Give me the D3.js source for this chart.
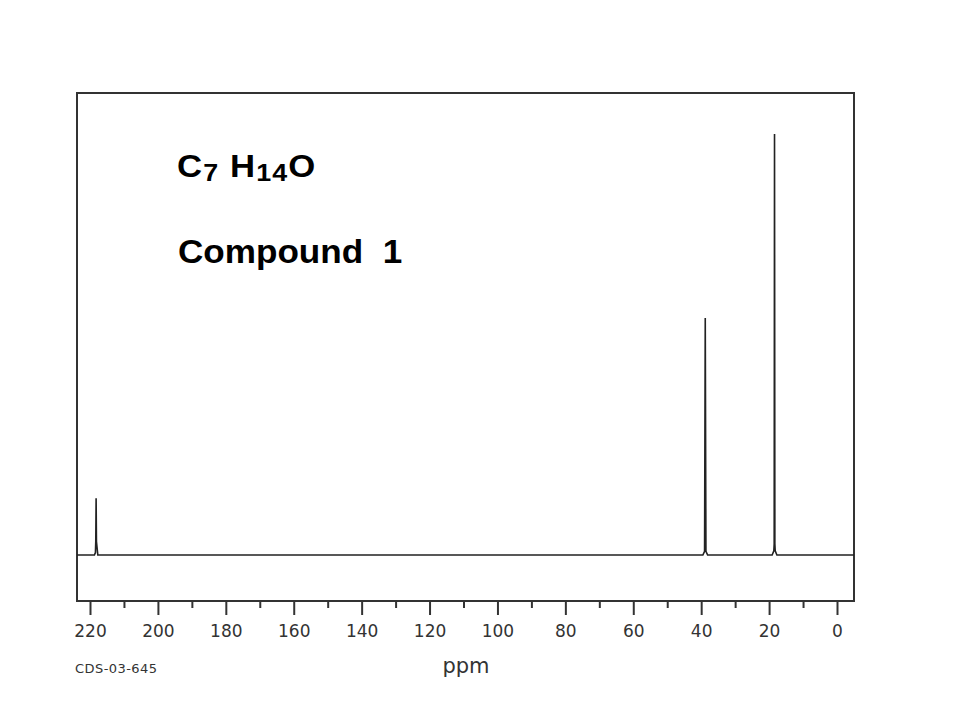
<!DOCTYPE html>
<html>
<head>
<meta charset="utf-8">
<script src="https://cdn.jsdelivr.net/npm/d3@7"></script>
<style>
  html, body { margin: 0; padding: 0; background: #fff; }
  svg { display: block; }
</style>
</head>
<body>
<svg id="chart" width="960" height="720"></svg>
<script>
// ---- data ----
const tickValues = [220, 200, 180, 160, 140, 120, 100, 80, 60, 40, 20, 0];
const minorTickValues = [210, 190, 170, 150, 130, 110, 90, 70, 50, 30, 10];
// peak list: chemical shift (ppm) and relative intensity
const peakShifts = [218.2, 38.8, 18.4];
const peakHeights = [13.5, 56.3, 100];
// spectrum trace (ppm, intensity) including the small feet of each peak
const tracePpm = [224, 218.7, 218.4, 218.3, 218.2, 218.1, 217.7,
                  39.5, 39.0, 38.8, 38.6, 38.1,
                  19.1, 18.6, 18.5, 18.4, 18.3, 18.2, 17.7, -5.2];
const traceInt = [0, 0, 0.6, 3.2, 13.5, 3.2, 0,
                  0, 0.9, 56.3, 0.9, 0,
                  0, 1.0, 2.6, 100, 2.6, 1.0, 0, 0];
const formulaText = ["C", "7", " H", "14", "O"];
const titleText = "Compound 1";
const axisTitle = "ppm";
const codeText = "CDS-03-645";

// ---- layout ----
const svg = d3.select("#chart");
const frame = { left: 77, top: 93, right: 854, bottom: 601 };
const x = d3.scaleLinear().domain([220, 0]).range([90, 837]);
const y = d3.scaleLinear().domain([0, 100]).range([555, 134]);

// frame
svg.append("rect")
  .attr("x", frame.left).attr("y", frame.top)
  .attr("width", frame.right - frame.left)
  .attr("height", frame.bottom - frame.top)
  .attr("fill", "none").attr("stroke", "#333").attr("stroke-width", 2);

// spectrum trace
const pts = tracePpm.map((p, i) => [Math.max(frame.left, Math.min(frame.right, x(p))), y(traceInt[i])]);
svg.append("path")
  .attr("d", d3.line()(pts))
  .attr("fill", "none").attr("stroke", "#222").attr("stroke-width", 1.6);

// axis
const axis = d3.axisBottom(x)
  .tickValues(tickValues)
  .tickSize(14).tickPadding(10)
  .tickFormat(d3.format("d"));
const gAxis = svg.append("g")
  .attr("transform", `translate(0,${frame.bottom})`)
  .call(axis);
gAxis.select(".domain").remove();
gAxis.selectAll(".tick line").attr("stroke", "#333").attr("stroke-width", 2);
gAxis.selectAll(".tick text")
  .attr("fill", "#333")
  .style("font-family", "'DejaVu Sans', Verdana, sans-serif")
  .style("font-size", "17px");

const minorAxis = d3.axisBottom(x)
  .tickValues(minorTickValues)
  .tickSize(7).tickFormat("");
const gMinor = svg.append("g")
  .attr("transform", `translate(0,${frame.bottom})`)
  .call(minorAxis);
gMinor.select(".domain").remove();
gMinor.selectAll(".tick line").attr("stroke", "#333").attr("stroke-width", 2);

// axis title
svg.append("text")
  .attr("x", 466).attr("y", 673)
  .attr("text-anchor", "middle")
  .attr("fill", "#333")
  .style("font-family", "'DejaVu Sans', Verdana, sans-serif")
  .style("font-size", "21px")
  .text(axisTitle);

// code label
svg.append("text")
  .attr("x", 75).attr("y", 673)
  .attr("fill", "#333")
  .attr("textLength", 82)
  .style("font-family", "'DejaVu Sans', Verdana, sans-serif")
  .style("font-size", "13px")
  .text(codeText);

// formula
const f = svg.append("text")
  .attr("transform", "translate(177,177) scale(1.12,1)")
  .attr("fill", "#000")
  .attr("xml:space", "preserve")
  .style("font-family", "'Liberation Sans', Arial, sans-serif")
  .style("font-weight", "bold")
  .style("letter-spacing", "1px")
  .style("font-size", "31px");
formulaText.forEach((t, i) => {
  const sub = i % 2 === 1;
  f.append("tspan")
    .attr("dy", sub ? 4 : (i === 0 ? 0 : -4))
    .style("font-size", sub ? "24px" : "31px")
    .text(t);
});

// title
svg.append("text")
  .attr("transform", "translate(178,263) scale(1.08,1)")
  .attr("fill", "#000")
  .style("font-family", "'Liberation Sans', Arial, sans-serif")
  .style("font-weight", "bold")
  .style("font-size", "32.5px")
  .style("white-space", "pre")
  .attr("xml:space", "preserve")
  .text(titleText.replace(" ", "  "));
</script>
</body>
</html>
